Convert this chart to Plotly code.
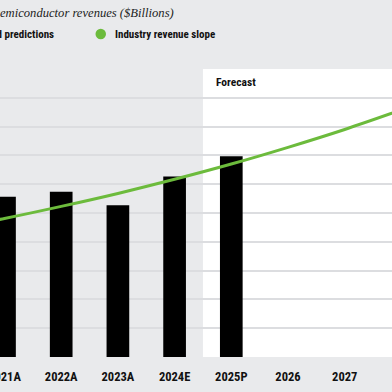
import plotly.graph_objects as go

# ---- data ----
years = [2021, 2022, 2023, 2024, 2025, 2026, 2027, 2028]
tick_labels = ["2021A", "2022A", "2023A", "2024E", "2025P", "2026", "2027", "2028"]
bar_years = [2021, 2022, 2023, 2024, 2025]
revenues = [556, 574, 527, 627, 697]          # $Billions
slope_years = [2020, 2021, 2022, 2023, 2024, 2025, 2026, 2027, 2028]
slope_values = [443, 481, 523, 568, 617, 670, 728, 790, 858]

BG = "#e9eaec"
GREEN = "#6cbb3c"
GRID = "#dcdde0"
SANS = "Roboto Condensed, Liberation Sans Narrow, DejaVu Sans Condensed, Roboto, sans-serif"
TICKFONT = dict(family=SANS, size=12.5, color="#111111", weight="bold")

fig = go.Figure()

fig.add_trace(go.Bar(
    x=bar_years, y=revenues, width=0.4,
    marker=dict(color="#000000", line=dict(width=0)),
    name="Actual and predictions", showlegend=False,
))

fig.add_trace(go.Scatter(
    x=slope_years, y=slope_values, mode="lines",
    line=dict(color=GREEN, width=3, shape="spline"),
    name="Industry revenue slope", showlegend=False,
))

# white forecast panel
fig.add_shape(type="rect", xref="x", yref="y domain",
              x0=2024.5, x1=2029.5, y0=0, y1=1,
              fillcolor="#ffffff", line=dict(width=0), layer="below")

fig.add_annotation(text="<b>Forecast</b>", xref="x", yref="y domain",
                   x=2024.5, y=1, xanchor="left", yanchor="top",
                   xshift=11, yshift=-4, showarrow=False,
                   font=dict(family=SANS, size=11.5, color="#111111"))

# last tick label, whose tick lies just past the cropped right edge
fig.add_annotation(text=tick_labels[-1], xref="x", yref="paper",
                   x=years[-1], y=0, yanchor="middle", yshift=-18,
                   showarrow=False, font=TICKFONT)

# title (cropped at the left edge like the reference)
fig.add_annotation(text="<i>Global semiconductor revenues ($Billions)</i>",
                   xref="paper", yref="paper", x=176/392, y=1,
                   xanchor="right", yanchor="top", yshift=69 - 4,
                   showarrow=False,
                   font=dict(family="Liberation Serif, DejaVu Serif, serif", size=12.6, color="#222222"))

# legend
fig.add_annotation(text="<b>Actual and predictions</b>", xref="paper", yref="paper",
                   x=56/392, y=1, xanchor="right", yanchor="middle", yshift=69 - 34,
                   showarrow=False, font=dict(family=SANS, size=11, color="#111111"))
fig.add_shape(type="circle", xref="paper", yref="paper",
              x0=95.5/392, x1=106/392, y0=(392 - 34 - 35 - 5.2) / 288, y1=(392 - 34 - 35 + 5.2) / 288,
              fillcolor=GREEN, line=dict(width=0))
fig.add_annotation(text="<b>Industry revenue slope</b>", xref="paper", yref="paper",
                   x=113/392, y=1, xanchor="left", yanchor="middle", yshift=69 - 34,
                   showarrow=False, font=dict(family=SANS, size=11, color="#111111"))

fig.update_layout(
    width=392, height=392,
    margin=dict(l=0, r=0, t=69, b=35, autoexpand=False),
    paper_bgcolor=BG, plot_bgcolor=BG,
    bargap=0.6,
    xaxis=dict(
        range=[2021 - 4.5 / 56.7, 2021 + 387.5 / 56.7],
        tickmode="array", tickvals=years, ticktext=tick_labels,
        showgrid=False, zeroline=False, showline=False,
        ticks="outside", ticklen=8, tickcolor="rgba(0,0,0,0)",
        ticklabeloverflow="allow", automargin=False,
        tickfont=TICKFONT,
    ),
    yaxis=dict(
        range=[0, 1000], dtick=100, showticklabels=False,
        showgrid=True, gridcolor=GRID, gridwidth=1.5,
        zeroline=False, showline=False, automargin=False,
    ),
)

fig.write_html("out.html", config={"displayModeBar": False},
               post_script="document.body.style.margin='0';document.body.style.background='%s';" % BG)
